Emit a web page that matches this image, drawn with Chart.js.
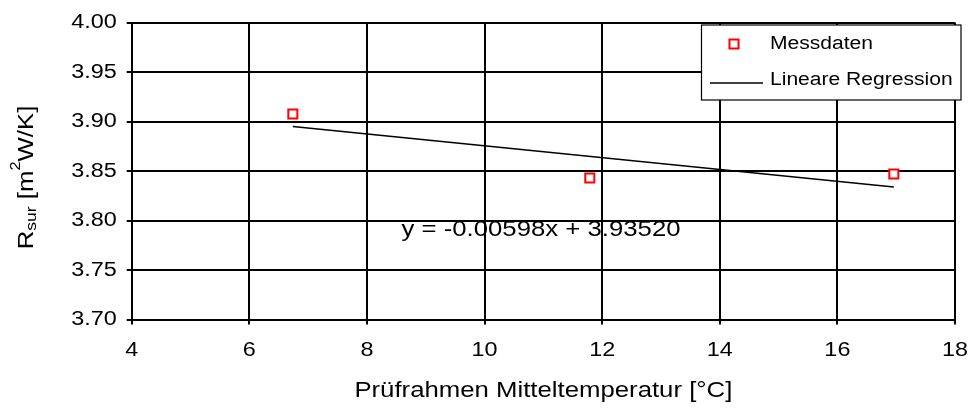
<!DOCTYPE html>
<html lang="de">
<head>
<meta charset="utf-8">
<title>Rsur über Prüfrahmen-Mitteltemperatur</title>
<script src="https://cdn.jsdelivr.net/npm/chart.js@4.4.1/dist/chart.umd.min.js"></script>
<style>
  html, body { margin: 0; padding: 0; background: #ffffff; }
  canvas { display: block; }
</style>
</head>
<body>
<canvas id="c" width="969" height="409"></canvas>
<script>
// Measured surface resistance versus mean frame temperature
const temps = [6.74, 11.79, 16.96];          // °C
const rsur = [3.9076, 3.8429, 3.8470];       // m²K/W
// Linear fit coefficients, as printed on the chart
const slope = -0.00598;
const intercept = 3.93520;

const xTickValues = [4, 6, 8, 10, 12, 14, 16, 18];
const xTickLabels = ['4', '6', '8', '10', '12', '14', '16', '18'];
const yTickValues = [3.70, 3.75, 3.80, 3.85, 3.90, 3.95, 4.00];
const yTickLabels = ['3.70', '3.75', '3.80', '3.85', '3.90', '3.95', '4.00'];

const seriesLabels = ['Messdaten', 'Lineare Regression'];
const equationAt = { x: 10.96, y: 3.790 };

const FONT = '"Liberation Sans", Arial, Helvetica, sans-serif';
const TEXT_STRETCH = 1.17;   // the typeface is set a little wider than normal

const canvas = document.getElementById('c');
const ctx2d = canvas.getContext('2d');
// widen every text run horizontally around its anchor point
const baseFillText = ctx2d.fillText;
ctx2d.fillText = function (text, x, y) {
  this.save();
  this.translate(x, y);
  this.scale(TEXT_STRETCH, 1);
  baseFillText.call(this, text, 0, 0);
  this.restore();
};

const fitX = [Math.min(...temps), Math.max(...temps)];
const fitPoints = fitX.map(x => ({ x: x, y: intercept + slope * x }));
const measured = temps.map((t, i) => ({ x: t, y: rsur[i] }));

const MARK_RADIUS = 6.4;
const MARK_COLOR = '#ff0000';

// y axis title with subscript and superscript
const yTitlePlugin = {
  id: 'yTitle',
  afterDraw(chart) {
    const ctx = chart.ctx;
    const area = chart.chartArea;
    const parts = [
      { t: 'R', size: 22, dy: 0 },
      { t: 'sur', size: 15, dy: 3 },
      { t: ' [m', size: 22, dy: 0 },
      { t: '2', size: 14, dy: -13 },
      { t: 'W/K]', size: 22, dy: 0 }
    ];
    ctx.save();
    ctx.fillStyle = '#000000';
    ctx.textAlign = 'left';
    ctx.textBaseline = 'alphabetic';
    let total = 0;
    parts.forEach(p => {
      ctx.font = p.size + 'px ' + FONT;
      p.w = ctx.measureText(p.t).width * TEXT_STRETCH;
      total += p.w;
    });
    const cy = (area.top + area.bottom) / 2 + 6.5;
    ctx.translate(33, cy);
    ctx.rotate(-Math.PI / 2);
    let x = -total / 2;
    parts.forEach(p => {
      ctx.font = p.size + 'px ' + FONT;
      ctx.fillText(p.t, x, p.dy);
      x += p.w;
    });
    ctx.restore();
  }
};

// regression equation, placed in data coordinates
const equationPlugin = {
  id: 'equation',
  afterDatasetsDraw(chart) {
    const ctx = chart.ctx;
    const xs = chart.scales.x, ys = chart.scales.y;
    const sign = slope < 0 ? '-' : '';
    const text = 'y = ' + sign + Math.abs(slope).toFixed(5) + 'x + ' + intercept.toFixed(5);
    ctx.save();
    ctx.font = '22px ' + FONT;
    ctx.fillStyle = '#000000';
    ctx.textAlign = 'center';
    ctx.textBaseline = 'middle';
    ctx.fillText(text, xs.getPixelForValue(equationAt.x), ys.getPixelForValue(equationAt.y));
    ctx.restore();
  }
};

// boxed legend in the upper right corner of the plot
const boxLegendPlugin = {
  id: 'boxLegend',
  afterDraw(chart) {
    const ctx = chart.ctx;
    const box = { l: 701.5, t: 25, r: 961, b: 100 };
    ctx.save();
    ctx.fillStyle = '#ffffff';
    ctx.fillRect(box.l, box.t, box.r - box.l, box.b - box.t);
    ctx.strokeStyle = '#000000';
    ctx.lineWidth = 1.2;
    ctx.strokeRect(box.l, box.t, box.r - box.l, box.b - box.t);

    // marker sample
    const ds0 = chart.data.datasets[0];
    const half = Math.SQRT1_2 * ds0.pointRadius;
    ctx.strokeStyle = ds0.borderColor;
    ctx.fillStyle = ds0.backgroundColor;
    ctx.lineWidth = ds0.borderWidth;
    ctx.beginPath();
    ctx.rect(734 - half, 44 - half, 2 * half, 2 * half);
    ctx.fill();
    ctx.stroke();

    // line sample
    const ds1 = chart.data.datasets[1];
    ctx.strokeStyle = ds1.borderColor;
    ctx.lineWidth = ds1.borderWidth;
    ctx.beginPath();
    ctx.moveTo(710, 83);
    ctx.lineTo(763, 83);
    ctx.stroke();

    ctx.fillStyle = '#000000';
    ctx.font = '18px ' + FONT;
    ctx.textAlign = 'left';
    ctx.textBaseline = 'middle';
    ctx.fillText(ds0.label, 770, 44);
    ctx.fillText(ds1.label, 770, 80);
    ctx.restore();
  }
};

new Chart(ctx2d, {
  type: 'scatter',
  data: {
    datasets: [
      {
        label: seriesLabels[0],
        data: measured,
        pointStyle: 'rect',
        pointRadius: MARK_RADIUS,
        pointHoverRadius: MARK_RADIUS,
        borderColor: MARK_COLOR,
        backgroundColor: '#ffffff',
        borderWidth: 2,
        showLine: false
      },
      {
        label: seriesLabels[1],
        type: 'line',
        data: fitPoints,
        borderColor: '#000000',
        backgroundColor: '#000000',
        borderWidth: 1.6,
        pointRadius: 0,
        fill: false,
        tension: 0
      }
    ]
  },
  options: {
    responsive: false,
    animation: false,
    devicePixelRatio: 1,
    events: [],
    layout: { padding: { left: 0, right: 14, top: 22.5, bottom: 0 } },
    plugins: {
      legend: { display: false },
      tooltip: { enabled: false }
    },
    scales: {
      x: {
        type: 'linear',
        min: 4,
        max: 18,
        afterBuildTicks(scale) { scale.ticks = xTickValues.map(v => ({ value: v })); },
        afterFit(scale) {
          scale.height = 89.5;
          scale.paddingLeft = 0;
          scale.paddingRight = 0;
        },
        ticks: {
          color: '#000000',
          font: { family: FONT, size: 20 },
          padding: 13.5,
          maxRotation: 0,
          autoSkip: false,
          callback: (v, i) => xTickLabels[i]
        },
        grid: { color: '#000000', lineWidth: 2, tickLength: 5, drawTicks: true },
        border: { color: '#000000', width: 2 },
        title: {
          display: true,
          text: 'Prüfrahmen Mitteltemperatur [°C]',
          color: '#000000',
          font: { family: FONT, size: 22 },
          padding: { top: 0, bottom: 4.5 }
        }
      },
      y: {
        type: 'linear',
        min: 3.70,
        max: 4.00,
        afterBuildTicks(scale) { scale.ticks = yTickValues.map(v => ({ value: v })); },
        afterFit(scale) {
          scale.width = 131.7;
          scale.paddingTop = 0;
          scale.paddingBottom = 0;
        },
        ticks: {
          color: '#000000',
          font: { family: FONT, size: 20 },
          padding: 10,
          autoSkip: false,
          callback: (v, i) => yTickLabels[i]
        },
        grid: { color: '#000000', lineWidth: 2, tickLength: 5, drawTicks: true },
        border: { color: '#000000', width: 2 }
      }
    }
  },
  plugins: [yTitlePlugin, equationPlugin, boxLegendPlugin]
});
</script>
</body>
</html>
